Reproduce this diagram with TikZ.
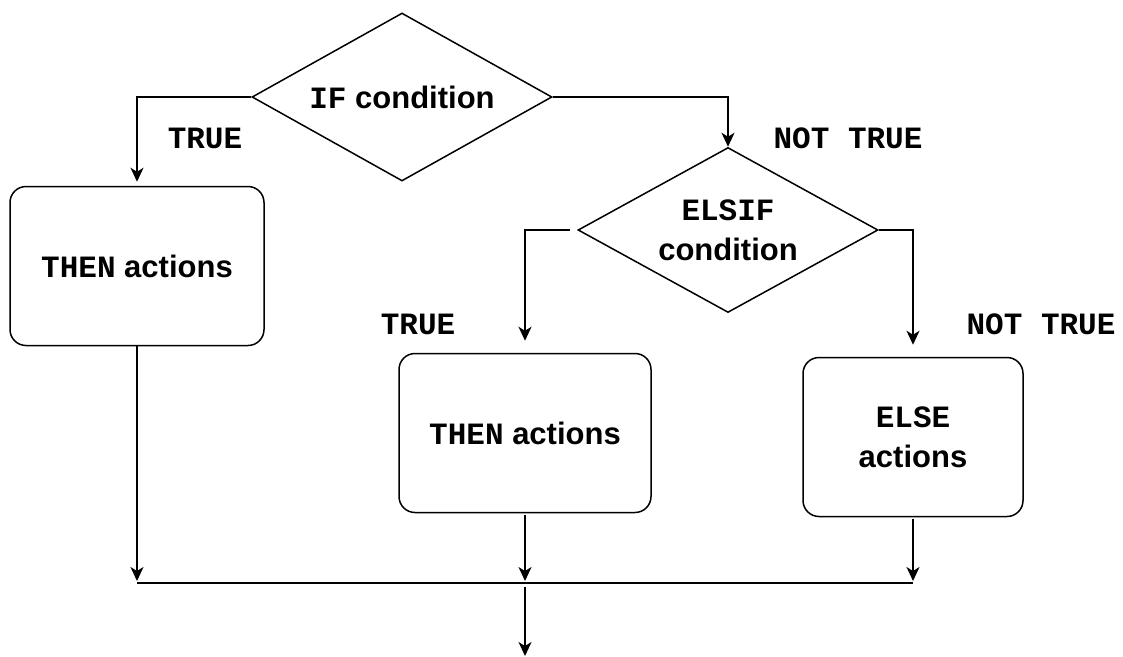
\documentclass[tikz,border=0pt]{standalone}
\usepackage{fontspec}
\setmainfont{Liberation Sans}
\setmonofont{Liberation Mono}
\usetikzlibrary{shapes.geometric,arrows.meta}

\begin{document}
\begin{tikzpicture}[x=1pt,y=-1pt,line width=1.5pt,
	font=\fontsize{31}{40}\selectfont\bfseries,
	decision/.style={draw,diamond,aspect=1.79,minimum width=300pt,minimum height=168pt,inner sep=0pt,align=center},
	actbox/.style={draw,rounded corners=16pt,minimum height=159pt,inner sep=0pt,align=center},
	flow/.style={-{Stealth[length=14pt,width=13pt,inset=4pt]}}]
\useasboundingbox (0,0) rectangle (1123,656);

\node[decision] (if) at (402,97) {\texttt{IF} condition};
\node[decision,minimum height=165pt] (elsif) at (728,230) {\texttt{ELSIF}\\condition};
\node[actbox,minimum width=254pt] (then1) at (137,266) {\texttt{THEN} actions};
\node[actbox,minimum width=252pt] (then2) at (525,433) {\texttt{THEN} actions};
\node[actbox,minimum width=220pt] (else) at (913,437) {\texttt{ELSE}\\actions};

\node (true1) at (205,138) {\texttt{TRUE}};
\node (nottrue1) at (848,138) {\texttt{NOT TRUE}};
\node (true2) at (418,324) {\texttt{TRUE}};
\node (nottrue2) at (1041,324) {\texttt{NOT TRUE}};

\coordinate (m1) at (137,583); \coordinate (m2) at (525,583);
\coordinate (m3) at (913,583); \coordinate (out) at (525,656);

\draw[flow,shorten >=4pt] (if.west) -| (then1.north);
\draw[flow] (if.east) -| (elsif.north);
\draw[flow,shorten <=7pt,shorten >=12pt] (elsif.west) -| (then2.north);
\draw[flow,shorten >=12pt] (elsif.east) -| (else.north);

\draw[flow,shorten >=2pt] (then1.south) -- (m1);
\draw[flow,shorten <=2pt,shorten >=2pt] (then2.south) -- (m2);
\draw[flow,shorten <=2pt,shorten >=2pt] (else.south) -- (m3);
\draw (m1) -- (m3);
\draw[flow,shorten <=4pt] (m2) -- (out);
\end{tikzpicture}
\end{document}
